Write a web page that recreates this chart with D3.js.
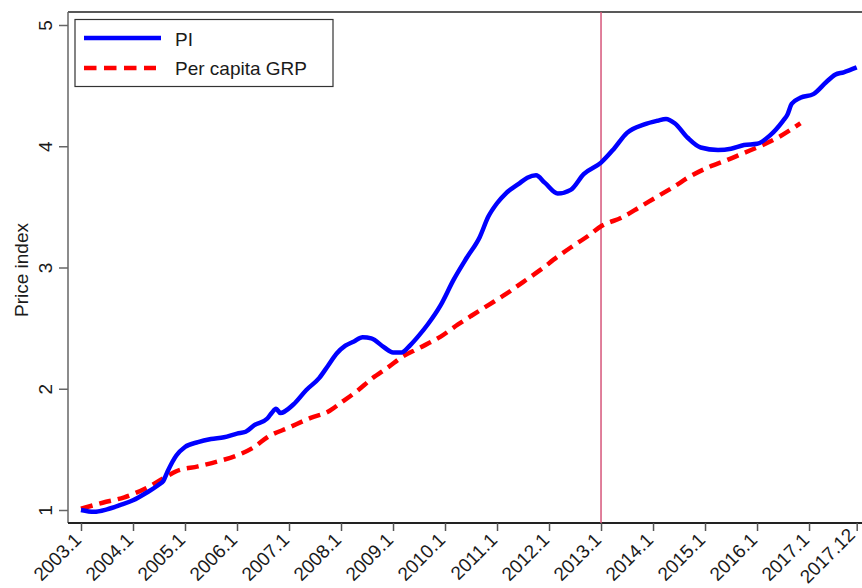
<!DOCTYPE html>
<html>
<head>
<meta charset="utf-8">
<script src="https://cdn.jsdelivr.net/npm/d3@7"></script>
<style>
  body { margin: 0; background: #fff; }
  text { font-family: Arial, "Liberation Sans", sans-serif; fill: #1a1a1a; }
</style>
</head>
<body>
<svg id="chart"></svg>
<script>
// chart size
var width = 862;
var height = 588;

// x tick labels (year.month)
var xTicks = ["2003.1", "2004.1", "2005.1", "2006.1", "2007.1", "2008.1", "2009.1", "2010.1",
  "2011.1", "2012.1", "2013.1", "2014.1", "2015.1", "2016.1", "2017.1", "2017.12"];
var yTicks = [1, 2, 3, 4, 5];

// PI series
var piDates = ["2003.1", "2003.4", "2003.7", "2003.10", "2004.1", "2004.4", "2004.7", "2004.8", "2004.9",
  "2004.11", "2005.1", "2005.4", "2005.7", "2005.10", "2006.1", "2006.3", "2006.5", "2006.8", "2006.9",
  "2006.10", "2006.11", "2007.2", "2007.5", "2007.8", "2007.10", "2007.12", "2008.2", "2008.4", "2008.6",
  "2008.8", "2008.11", "2009.1", "2009.3", "2009.5", "2009.7", "2009.9", "2009.12", "2010.3", "2010.6",
  "2010.9", "2010.11", "2011.1", "2011.3", "2011.6", "2011.8", "2011.10", "2011.12", "2012.3", "2012.6",
  "2012.9", "2013.1", "2013.4", "2013.7", "2013.11", "2014.2", "2014.4", "2014.6", "2014.9", "2014.12",
  "2015.4", "2015.7", "2015.10", "2016.1", "2016.4", "2016.7", "2016.8", "2016.9", "2016.11", "2017.2",
  "2017.5", "2017.7", "2017.9", "2017.12"];
var piValues = [1.00, 0.985, 1.005, 1.04, 1.08, 1.14, 1.21, 1.24, 1.32,
  1.45, 1.52, 1.56, 1.585, 1.60, 1.63, 1.645, 1.70, 1.755, 1.80,
  1.835, 1.80, 1.87, 1.99, 2.09, 2.19, 2.29, 2.355, 2.39, 2.425,
  2.415, 2.34, 2.30, 2.30, 2.36, 2.44, 2.53, 2.69, 2.90, 3.08,
  3.25, 3.42, 3.53, 3.61, 3.69, 3.74, 3.76, 3.70, 3.61, 3.64,
  3.77, 3.865, 3.98, 4.11, 4.18, 4.21, 4.225, 4.19, 4.07, 3.99,
  3.97, 3.98, 4.01, 4.02, 4.09, 4.21, 4.26, 4.35, 4.40, 4.43,
  4.53, 4.59, 4.61, 4.65];

// Per capita GRP series
var grpDates = ["2003.1", "2003.6", "2003.11", "2004.4", "2004.8", "2004.11", "2005.4", "2005.9", "2006.1",
  "2006.5", "2006.8", "2007.1", "2007.6", "2007.10", "2008.1", "2008.5", "2008.8", "2008.12", "2009.3",
  "2009.7", "2009.12", "2010.4", "2010.7", "2010.11", "2011.3", "2011.7", "2011.11", "2012.3", "2012.6",
  "2012.10", "2013.1", "2013.6", "2013.10", "2014.2", "2014.6", "2014.9", "2015.2", "2015.6", "2015.10",
  "2016.2", "2016.6", "2016.11"];
var grpValues = [1.01, 1.06, 1.105, 1.18, 1.26, 1.32, 1.36, 1.405, 1.45,
  1.52, 1.60, 1.68, 1.76, 1.81, 1.885, 1.99, 2.08, 2.18, 2.26,
  2.335, 2.43, 2.53, 2.60, 2.69, 2.78, 2.88, 2.98, 3.09, 3.165,
  3.26, 3.34, 3.415, 3.50, 3.585, 3.67, 3.74, 3.83, 3.885, 3.945,
  4.005, 4.075, 4.19];

var markDate = "2013.1";

// "2005.4" -> months since 2003.1
function monthIndex(s) {
  var p = s.split(".");
  return (+p[0] - 2003) * 12 + (+p[1] - 1);
}

var svg = d3.select("#chart")
  .attr("width", width)
  .attr("height", height);

var plotLeft = 68, plotTop = 12, plotBottom = 523, plotRight = 862;

var x = d3.scaleLinear()
  .domain([0, 179])
  .range([81, 856.7]);

var y = d3.scaleLinear()
  .domain([1, 5])
  .range([510, 25]);

// frame: top line
svg.append("line")
  .attr("x1", plotLeft).attr("x2", plotRight)
  .attr("y1", plotTop).attr("y2", plotTop)
  .style("stroke", "#222").style("stroke-width", 1.5);

// y axis
var yAxis = d3.axisLeft(y).tickValues(yTicks).tickSize(9).tickFormat(d3.format("d"));
var gy = svg.append("g")
  .attr("transform", "translate(" + plotLeft + ",0)")
  .call(yAxis);
gy.select(".domain").attr("d", "M0," + plotTop + "V" + plotBottom)
  .style("stroke", "#666").style("stroke-width", 1.5);
gy.selectAll(".tick line").style("stroke", "#666").style("stroke-width", 1.5);
gy.selectAll(".tick text")
  .attr("x", null).attr("dy", null)
  .attr("text-anchor", "middle")
  .attr("transform", "translate(-16,0)rotate(-90)")
  .style("font-size", "19px")
  .style("font-family", "Arial, 'Liberation Sans', sans-serif")
  .style("fill", "#1a1a1a");

// x axis
var xAxis = d3.axisBottom(x)
  .tickValues(xTicks.map(monthIndex))
  .tickSize(8)
  .tickFormat(function(d, i) { return xTicks[i]; });
var gx = svg.append("g")
  .attr("transform", "translate(0," + plotBottom + ")")
  .call(xAxis);
gx.select(".domain").attr("d", "M" + plotLeft + ",0H" + plotRight)
  .style("stroke", "#222").style("stroke-width", 2);
gx.selectAll(".tick line").style("stroke", "#555").style("stroke-width", 1.5);
gx.selectAll(".tick text")
  .attr("y", null).attr("dy", null)
  .attr("text-anchor", "end")
  .attr("transform", function(d, i) {
    // last label is longer, keep it inside the picture
    var last = i == xTicks.length - 1;
    return "translate(" + (last ? -1 : 1) + "," + (last ? 13 : 18) + ")rotate(-45)";
  })
  .style("font-size", "19px")
  .style("font-family", "Arial, 'Liberation Sans', sans-serif")
  .style("fill", "#1a1a1a");

// y title
svg.append("text")
  .attr("transform", "translate(28,270)rotate(-90)")
  .attr("text-anchor", "middle")
  .style("font-size", "19px")
  .text("Price index");

// vertical marker
svg.append("line")
  .attr("x1", x(monthIndex(markDate))).attr("x2", x(monthIndex(markDate)))
  .attr("y1", plotTop).attr("y2", plotBottom)
  .style("stroke", "#d6557a").style("stroke-width", 1.5);

var line = d3.line()
  .x(function(d) { return x(monthIndex(d[0])); })
  .y(function(d) { return y(d[1]); })
  .curve(d3.curveMonotoneX);

svg.append("path")
  .datum(grpDates.map(function(d, i) { return [d, grpValues[i]]; }))
  .attr("d", line)
  .style("fill", "none")
  .style("stroke", "#ff0000")
  .style("stroke-width", 4.5)
  .style("stroke-dasharray", "12,7");

svg.append("path")
  .datum(piDates.map(function(d, i) { return [d, piValues[i]]; }))
  .attr("d", line)
  .style("fill", "none")
  .style("stroke", "#0000ff")
  .style("stroke-width", 4.5)
  .style("stroke-linejoin", "round");

// legend
var legend = svg.append("g").attr("class", "legend");
legend.append("rect")
  .attr("x", 75).attr("y", 19.5)
  .attr("width", 258).attr("height", 67)
  .style("fill", "#fff")
  .style("stroke", "#333").style("stroke-width", 1.2);
legend.append("line")
  .attr("x1", 84).attr("x2", 161).attr("y1", 38).attr("y2", 38)
  .style("stroke", "#0000ff").style("stroke-width", 4.5);
legend.append("line")
  .attr("x1", 84).attr("x2", 156).attr("y1", 68).attr("y2", 68)
  .style("stroke", "#ff0000").style("stroke-width", 4.5)
  .style("stroke-dasharray", "12.5,7.5");
legend.append("text")
  .attr("x", 175).attr("y", 46)
  .style("font-size", "19px")
  .text("PI");
legend.append("text")
  .attr("x", 175).attr("y", 75)
  .style("font-size", "19px")
  .text("Per capita GRP");
</script>
</body>
</html>
